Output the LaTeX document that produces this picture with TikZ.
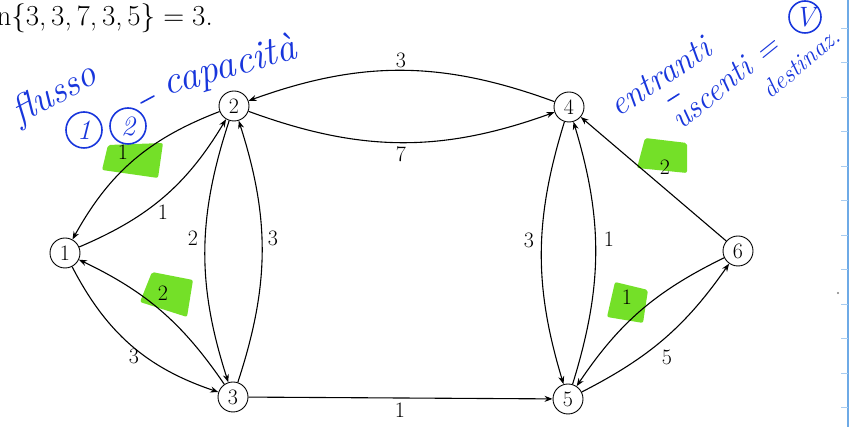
\documentclass[tikz,border=0pt]{standalone}
\usetikzlibrary{arrows.meta}
\definecolor{hlgreen}{RGB}{116,224,40}
\definecolor{penblue}{RGB}{24,54,220}
\definecolor{edgeblue}{RGB}{110,170,230}
\begin{document}
\begin{tikzpicture}[x=1pt,y=1pt,
  vtx/.style={draw,circle,minimum size=30pt,inner sep=0pt,line width=0.9pt,font=\fontsize{22}{26}\selectfont},
  edge/.style={line width=1.1pt,-{Stealth[length=8pt,width=6pt]}},
  lbl/.style={font=\fontsize{22}{26}\selectfont,inner sep=0pt},
  hl/.style={fill=hlgreen,draw=none,rounded corners=2pt},
  pen/.style={draw=penblue,line width=1.6pt,line cap=round},
  hand/.style={text=penblue,inner sep=0pt,font=\itshape},
  handc/.style={pen,circle,text=penblue,inner sep=0pt,font=\fontsize{28}{32}\selectfont\itshape}
]
\useasboundingbox (0,0) rectangle (851,427);
\clip (0,0) rectangle (851,427);

% green highlights
\fill[hl] (108,282) -- (163,284) -- (158,249) -- (102,257) -- cycle;
\fill[hl] (152,155) -- (193,147) -- (187,110) -- (140,125) -- cycle;
\fill[hl] (645,289) -- (687,284) -- (687,254) -- (637,259) -- cycle;
\fill[hl] (615,145) -- (648,137) -- (643,104) -- (607,110) -- cycle;

% header
\node[anchor=base east,inner sep=0pt,font=\fontsize{29}{35}\selectfont] (hdr) at (213,401) {min\{3,\,3,\,7,\,3,\,5\}\;=\;3.};

% vertices
\node[vtx] (n1) at (65,174) {1};
\node[vtx] (n2) at (234,321) {2};
\node[vtx] (n3) at (233,30) {3};
\node[vtx] (n4) at (569,320) {4};
\node[vtx] (n5) at (568,28) {5};
\node[vtx] (n6) at (738,176) {6};

% edges
\draw[edge] (n4) to[bend right=20] (n2);
\draw[edge] (n2) to[bend right=20] (n4);
\draw[edge] (n2) to[bend right=20] (n1);
\draw[edge] (n1) to[bend right=18] (n2);
\draw[edge] (n3) to[bend right=15] (n1);
\draw[edge] (n1) to[bend right=22] (n3);
\draw[edge] (n2) to[bend right=18] (n3);
\draw[edge] (n3) to[bend right=18] (n2);
\draw[edge] (n3) -- (n5);
\draw[edge] (n4) to[bend right=17] (n5);
\draw[edge] (n5) to[bend right=17] (n4);
\draw[edge] (n6) -- (n4);
\draw[edge] (n6) to[bend right=15] (n5);
\draw[edge] (n5) to[bend right=14] (n6);

% edge labels
\node[lbl] (l42) at (401,367) {3};
\node[lbl] (l24) at (401,273) {7};
\node[lbl] (l21) at (123,275) {1};
\node[lbl] (l12) at (163,215) {1};
\node[lbl] (l31) at (163,134) {2};
\node[lbl] (l13) at (134,71) {3};
\node[lbl] (l23) at (193,189) {2};
\node[lbl] (l32) at (273,189) {3};
\node[lbl] (l35) at (400,17) {1};
\node[lbl] (l45) at (529,187) {3};
\node[lbl] (l54) at (609,188) {1};
\node[lbl] (l64) at (665,260) {2};
\node[lbl] (l65) at (627,130) {1};
\node[lbl] (l56) at (667,70) {5};

% handwriting (left)
\node[hand,rotate=28,font=\fontsize{38}{44}\selectfont\itshape] (wfl) at (55,332) {flusso};
\node[handc,minimum size=36pt] (c1) at (84,297) {1};
\node[handc,minimum size=36pt] (c2) at (128,301) {2};
\coordinate (d1) at (141,324);
\coordinate (d2) at (154,331);
\draw[pen] (d1) -- (d2);
\node[hand,rotate=16,font=\fontsize{40}{46}\selectfont\itshape] (wcap) at (230,360) {capacità};

% handwriting (right)
\node[hand,rotate=34,font=\fontsize{34}{40}\selectfont\itshape] (went) at (660,350) {entranti};
\coordinate (m1) at (668,326);
\coordinate (m2) at (679,333);
\draw[pen] (m1) -- (m2);
\node[hand,rotate=39,font=\fontsize{32}{38}\selectfont\itshape] (wusc) at (725,345) {uscenti =};
\node[handc,minimum size=32pt] (cv) at (805,410) {V};
\node[hand,rotate=40,font=\fontsize{25}{30}\selectfont\itshape] (wdst) at (801,364) {destinaz.};

% sheet edge on the right
\draw[edgeblue,line width=1.4pt] (848,0) -- (848,427);
\foreach \k in {0,...,11} \draw[edgeblue!60,line width=0.6pt] (841,{399-34.5*\k}) -- (848,{399-34.5*\k});
\fill[gray] (838,134) circle (1.2);
\end{tikzpicture}
\end{document}
